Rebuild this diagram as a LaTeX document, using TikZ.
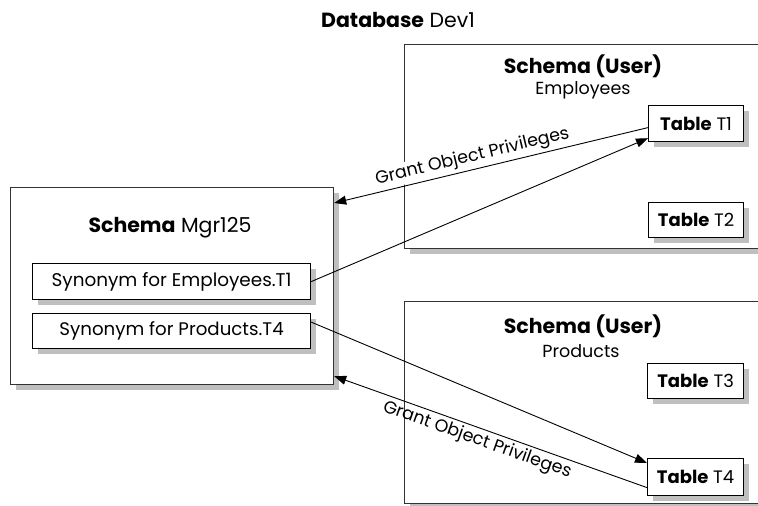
\documentclass[tikz,border=0pt]{standalone}
\usepackage{fontspec}
\setmainfont{Poppins}
\usetikzlibrary{arrows.meta,shadows,calc}
\begin{document}
\begin{tikzpicture}[x=1pt,y=-1pt,
  txt/.style={font=\fontsize{17.5}{20}\selectfont, inner sep=0pt},
  head/.style={font=\fontsize{20.5}{23}\selectfont, inner sep=0pt},
  box/.style={draw=black!80, line width=1.2pt, fill=white, anchor=north west, inner sep=0pt,
    drop shadow={shadow xshift=5pt, shadow yshift=-5pt, fill=black!25, opacity=1}},
  tbl/.style={draw=black, line width=1.2pt, fill=white, anchor=north west, inner sep=0pt,
    font=\fontsize{18}{20}\selectfont,
    drop shadow={shadow xshift=5pt, shadow yshift=-5pt, fill=black!25, opacity=1}},
  arr/.style={draw=black, line width=0.9pt, -{Triangle[length=12pt,width=9pt]}},
  lbl/.style={font=\fontsize{17.5}{20}\selectfont, inner sep=2pt}]
\clip (0,0) rectangle (758,506);
\fill[white] (0,0) rectangle (758,506);

\node[head] (title) at (398,20) {\textbf{Database} Dev1};

% schema Mgr125
\node[box, minimum width=323pt, minimum height=197pt] (mgr) at (10,187) {};
\node[head] (mgrt) at (170,228) {\textbf{Schema} Mgr125};
\node[tbl, minimum width=278pt, minimum height=36pt, font=\fontsize{18.4}{20}\selectfont] (syn1) at (32,263) {Synonym for Employees.T1};
\node[tbl, minimum width=278pt, minimum height=35pt, font=\fontsize{18.2}{20}\selectfont] (syn2) at (32,313) {Synonym for Products.T4};

% schema Employees
\node[box, minimum width=380pt, minimum height=204pt] (emp) at (404,44) {};
\node[head] (empt) at (583,66) {\textbf{Schema (User)}};
\node[txt] (empn) at (583,90) {Employees};
\node[tbl, minimum width=95pt, minimum height=36pt] (t1) at (648,105) {\textbf{Table} T1};
\node[tbl, minimum width=95pt, minimum height=35pt] (t2) at (648,202) {\textbf{Table} T2};

% schema Products
\node[box, minimum width=380pt, minimum height=202pt] (prod) at (404,301) {};
\node[head] (prodt) at (583,326) {\textbf{Schema (User)}};
\node[txt] (prodn) at (581,351) {Products};
\node[tbl, minimum width=96pt, minimum height=35pt] (t3) at (647,363) {\textbf{Table} T3};
\node[tbl, minimum width=96pt, minimum height=37pt] (t4) at (647,458) {\textbf{Table} T4};

% connectors
\draw[arr] ([yshift=-4pt]t1.west) -- node[lbl, fill=white, sloped, above=1pt, pos=0.55] {Grant Object Privileges} ([yshift=-16pt]mgr.north east);
\draw[arr] (syn1.east) -- ([yshift=4pt]t1.south west);
\draw[arr] ([yshift=9pt]syn2.east) -- ([yshift=-5pt]t4.north west);
\draw[arr] ([yshift=-10.5pt]t4.west) -- node[lbl, sloped, below=1pt, pos=0.53] {Grant Object Privileges} ([yshift=9pt]mgr.south east);
\end{tikzpicture}
\end{document}
